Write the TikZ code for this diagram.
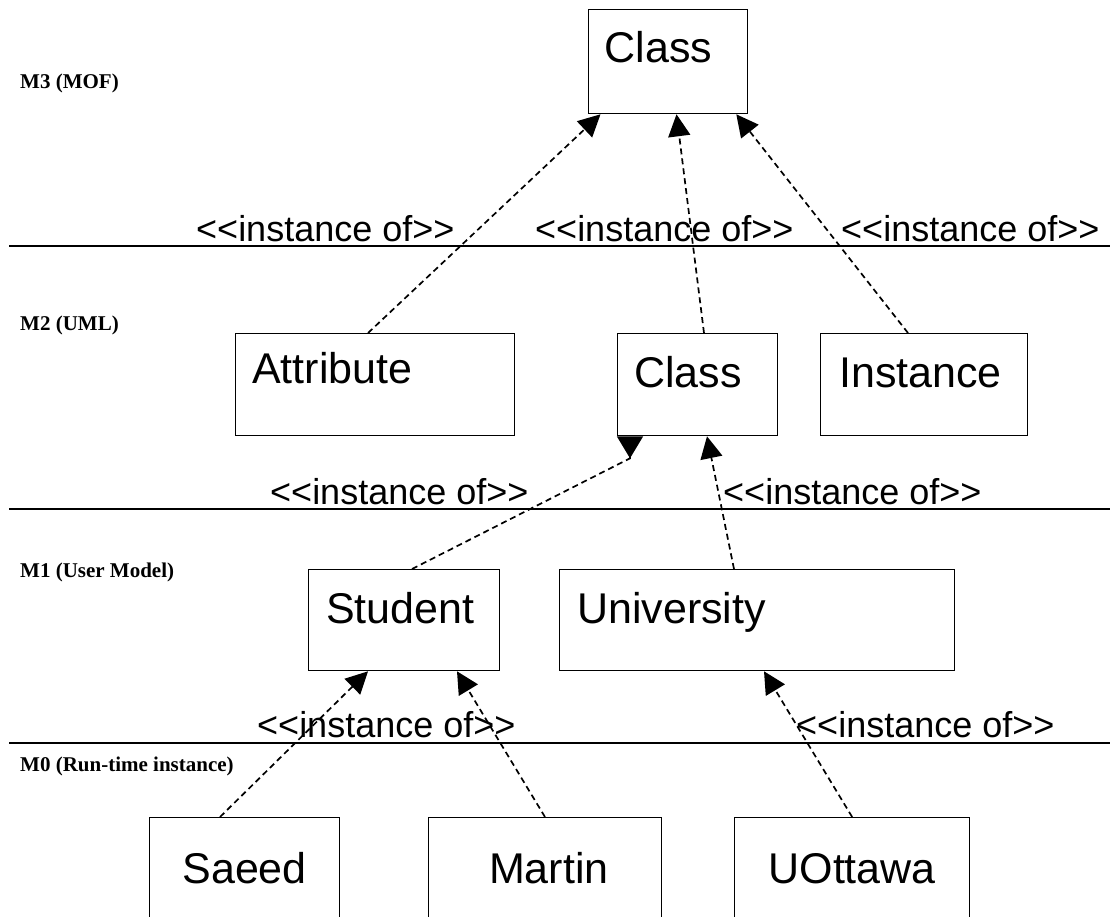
\documentclass[tikz,border=0pt]{standalone}
\usepackage{fontspec}
\setmainfont{Liberation Sans}
\newfontfamily\stereofont{Liberation Sans}[Ligatures=TeXOff]
\newfontfamily\lvlfont{Liberation Serif}
\usetikzlibrary{arrows.meta,calc}
\tikzset{
  box/.style={draw, line width=1.3pt, inner sep=0pt, anchor=north west},
  boxtxt/.style={inner sep=0pt, font=\fontsize{43}{50}\selectfont},
  stereo/.style={inner sep=0pt, anchor=base west, font=\stereofont\fontsize{36}{40}\selectfont},
  lvl/.style={inner sep=0pt, anchor=west, font=\lvlfont\bfseries\fontsize{21}{24}\selectfont},
  sepline/.style={line width=1.3pt},
  conn/.style={line width=1.7pt, dash pattern=on 6pt off 4pt, -{Triangle[length=22pt,width=22pt]}},
  connrev/.style={line width=1.7pt, dash pattern=on 6pt off 4pt, -{Triangle[reversed,length=22pt,width=26pt]}}
}
\begin{document}
\begin{tikzpicture}[x=1pt,y=-1pt]
\useasboundingbox (0,0) rectangle (1110,917);
\clip (0,0) rectangle (1110,917);
\fill[white] (0,0) rectangle (1110,917);
% level separators
\draw[sepline] (9,246) -- (1110,246);
\draw[sepline] (9,509) -- (1110,509);
\draw[sepline] (9,743) -- (1110,743);
% level names
\node[lvl] (m3) at (20,83) {M3 (MOF)};
\node[lvl] (m2) at (20,325) {M2 (UML)};
\node[lvl] (m1) at (20,572) {M1 (User Model)};
\node[lvl] (m0) at (20,766) {M0 (Run-time instance)};
% boxes
\node[box, minimum width=159.5pt, minimum height=104pt] (c3) at (587.5,9) {};
\node[box, minimum width=279pt, minimum height=102pt] (attr) at (235,333) {};
\node[box, minimum width=160pt, minimum height=102pt] (c2) at (617,333) {};
\node[box, minimum width=207pt, minimum height=102pt] (inst) at (820,333) {};
\node[box, minimum width=191pt, minimum height=101pt] (stu) at (308,569) {};
\node[box, minimum width=395pt, minimum height=101pt] (univ) at (559,569) {};
\node[box, minimum width=190pt, minimum height=140pt] (saeed) at (149,817) {};
\node[box, minimum width=233.5pt, minimum height=140pt] (martin) at (427.5,817) {};
\node[box, minimum width=235pt, minimum height=140pt] (uott) at (734,817) {};
% box texts
\node[boxtxt, anchor=base west] (c3t) at ($(c3.north west)+(17,54)$) {Class};
\node[boxtxt, anchor=base west] (attrt) at ($(attr.north west)+(17,50)$) {Attribute};
\node[boxtxt, anchor=base west] (c2t) at ($(c2.north west)+(17,54)$) {Class};
\node[boxtxt, anchor=base west] (instt) at ($(inst.north west)+(19,54)$) {Instance};
\node[boxtxt, anchor=base west] (stut) at ($(stu.north west)+(18,54)$) {Student};
\node[boxtxt, anchor=base west] (univt) at ($(univ.north west)+(18,54)$) {University};
\node[boxtxt, anchor=base] (saeedt) at ($(saeed.north)+(0,66)$) {Saeed};
\node[boxtxt, anchor=base] (martint) at ($(martin.north)+(4,66)$) {Martin};
\node[boxtxt, anchor=base] (uottt) at ($(uott.north)+(0,66)$) {UOttawa};
% stereotype labels
\node[stereo] (s1) at (196,241) {<<instance of>>};
\node[stereo] (s2) at (535,241) {<<instance of>>};
\node[stereo] (s3) at (841,241) {<<instance of>>};
\node[stereo] (s4) at (270,504) {<<instance of>>};
\node[stereo] (s5) at (723,504) {<<instance of>>};
\node[stereo] (s6) at (257,737) {<<instance of>>};
\node[stereo] (s7) at (796,737) {<<instance of>>};
% connectors
\draw[conn] ($(attr.north west)+(133,0)$) -- ($(c3.south west)+(13,0)$);
\draw[conn] ($(c2.north west)+(87,0)$) -- ($(c3.south west)+(89,0)$);
\draw[conn] ($(inst.north west)+(88,0)$) -- ($(c3.south east)+(-12,0)$);
\coordinate (bend) at ($(c2.south west)+(13,22)$);
\draw[connrev] ($(stu.north west)+(104,0)$) -- (bend) -- ($(c2.south west)+(13,0)$);
\draw[conn] ($(univ.north west)+(175,0)$) -- ($(c2.south west)+(90,0)$);
\draw[conn] ($(saeed.north west)+(71,0)$) -- ($(stu.south west)+(60,0)$);
\draw[conn] ($(martin.north west)+(117.5,0)$) -- ($(stu.south west)+(149,0)$);
\draw[conn] (uott.north) -- ($(univ.south west)+(205,0)$);
\end{tikzpicture}
\end{document}
